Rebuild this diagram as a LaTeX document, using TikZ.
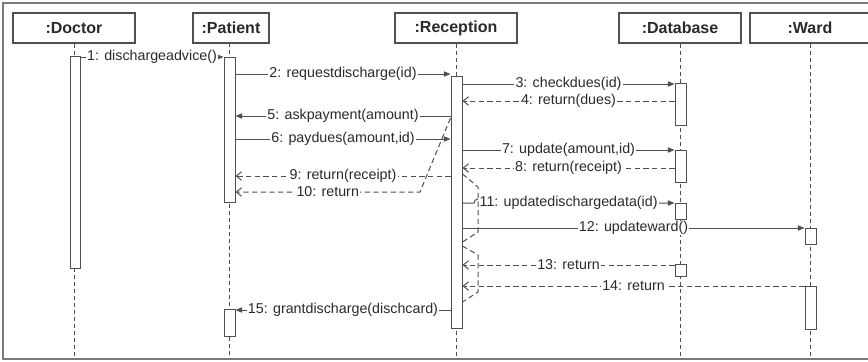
\documentclass[tikz,border=0pt]{standalone}
\usepackage{fontspec}
\setmainfont{Liberation Sans}
\usetikzlibrary{arrows.meta,fit}
\definecolor{ln}{HTML}{505050}
\definecolor{tx}{HTML}{2A2A2A}
\definecolor{fr}{HTML}{7A7A7A}
\tikzset{
  head/.style={draw=ln, line width=0.9pt, inner sep=0pt, minimum height=22.5pt, text=tx, font=\bfseries\fontsize{12}{14}\selectfont},
  lifeline/.style={draw=ln, line width=0.75pt, dash pattern=on 3pt off 2.25pt},
  act/.style={draw=ln, fill=white, line width=0.75pt, inner sep=0pt},
  call/.style={draw=ln, line width=0.75pt, -{Triangle[length=5pt,width=4pt]}},
  ret/.style={draw=ln, line width=0.75pt, dash pattern=on 4pt off 2.5pt, -{Straight Barb[length=4pt,width=6.5pt]}},
  bracket/.style={draw=ln, line width=0.75pt, dash pattern=on 4pt off 2.5pt},
  lbl/.style={fill=white, inner xsep=1pt, inner ysep=0.5pt, text=tx, font=\fontsize{10.7}{12}\selectfont},
}
\begin{document}
\begin{tikzpicture}[x=0.75pt,y=-0.75pt]
\useasboundingbox (0,0) rectangle (868,361);
\clip (0,0) rectangle (868,361);
\fill[white] (0,0) rectangle (868,361);
\draw[fr, line width=0.8pt] (3,3) rectangle (890,359);

% heads
\node[head, minimum width=91.5pt] (doc) at (74,28) {:Doctor};
\node[head, minimum width=57pt] (pat) at (231,28) {:Patient};
\node[head, minimum width=91.5pt] (rec) at (456,28) {:Reception};
\node[head, minimum width=91.5pt] (db) at (680,28) {:Database};
\node[head, minimum width=90pt] (ward) at (810,28) {:Ward};

% lifelines
\draw[lifeline] (doc.south) -- (doc.south |- 0,358);
\draw[lifeline] (229.5,43) -- (229.5,358);
\draw[lifeline] (rec.south) -- (rec.south |- 0,358);
\draw[lifeline] (db.south) -- (db.south |- 0,358);
\draw[lifeline] (ward.south) -- (ward.south |- 0,358);

% activations
\node[act, fit={(70,56)(80,268)}] (dA) {};
\node[act, fit={(224,57)(235,202)}] (pA1) {};
\node[act, fit={(224,309)(235,336)}] (pA2) {};
\node[act, fit={(451,76)(462,328)}] (rA) {};
\node[act, fit={(675,83)(686,125)}] (dbA1) {};
\node[act, fit={(675,150)(686,182)}] (dbA2) {};
\node[act, fit={(675,203)(686,219)}] (dbA3) {};
\node[act, fit={(675,264)(686,276)}] (dbA4) {};
\node[act, fit={(805,228)(816,244)}] (wA1) {};
\node[act, fit={(805,286)(816,329)}] (wA2) {};

% messages
\draw[call] (dA.east |- 0,57) -- (pA1.west |- 0,57) node[lbl, midway] {1: dischargeadvice()};
\draw[call] (pA1.east |- 0,74) -- (rA.west |- 0,74) node[lbl, midway] {2: requestdischarge(id)};
\draw[call] (rA.east |- 0,84) -- (dbA1.west |- 0,84) node[lbl, midway] {3: checkdues(id)};
\draw[ret] (dbA1.west |- 0,101) -- (rA.east |- 0,101) node[lbl, midway] {4: return(dues)};
\draw[call] (rA.west |- 0,116) -- (pA1.east |- 0,116) node[lbl, midway] {5: askpayment(amount)};
\draw[call] (pA1.east |- 0,139) -- (rA.west |- 0,139) node[lbl, midway] {6: paydues(amount,id)};
\draw[call] (rA.east |- 0,150) -- (dbA2.west |- 0,150) node[lbl, midway] {7: update(amount,id)};
\draw[ret] (dbA2.west |- 0,168) -- (rA.east |- 0,168) node[lbl, midway] {8: return(receipt)};
\draw[ret] (rA.west |- 0,176) -- (pA1.east |- 0,176) node[lbl, midway] {9: return(receipt)};
\draw[ret] (rA.west |- 0,118) -- (420,192) -- (pA1.east |- 0,192) node[lbl, midway] {10: return};
\draw[call] (rA.east |- 0,203) -- (474,203) arc[start angle=180, end angle=0, radius=3pt] -- (dbA3.west |- 0,203) node[lbl, pos=0.45] {11: updatedischargedata(id)};
\draw[call] (rA.east |- 0,228) -- (wA1.west |- 0,228) node[lbl, midway] {12: updateward()};
\draw[ret] (dbA4.west |- 0,265) -- (rA.east |- 0,265) node[lbl, midway] {13: return};
\draw[ret] (wA2.west |- 0,286) -- (rA.east |- 0,286) node[lbl, midway] {14: return};
\draw[call] (rA.west |- 0,310) -- (pA2.east |- 0,310) node[lbl, midway] {15: grantdischarge(dischcard)};

% dashed brackets beside the reception activation
\draw[bracket] (rA.east |- 0,174) -- (478,187) -- (478,232) -- (rA.east |- 0,242);
\draw[bracket] (rA.east |- 0,246) -- (478,255) -- (478,292) -- (rA.east |- 0,302);
\end{tikzpicture}
\end{document}
